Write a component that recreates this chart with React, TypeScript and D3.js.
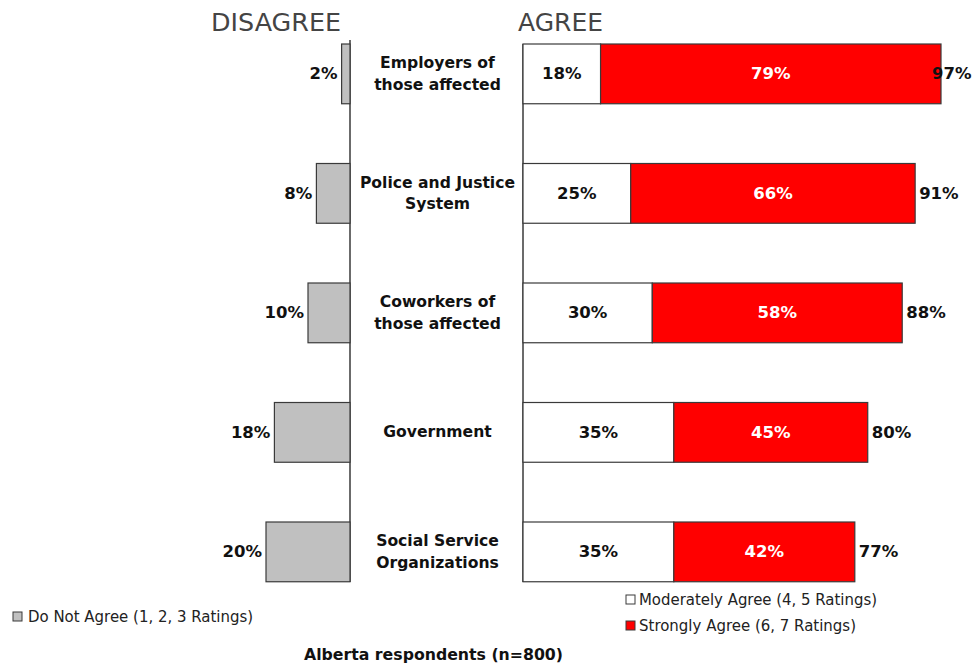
import React from "react";
import * as d3 from "d3";

const categories = [
  ["Employers of", "those affected"],
  ["Police and Justice", "System"],
  ["Coworkers of", "those affected"],
  ["Government"],
  ["Social Service", "Organizations"],
];
const disagree = [2, 8, 10, 18, 20];
const moderate = [18, 25, 30, 35, 35];
const strong = [79, 66, 58, 45, 42];
const totals = [97, 91, 88, 80, 77];
const legendLabels = ["Do Not Agree (1, 2, 3 Ratings)", "Moderately Agree (4, 5 Ratings)", "Strongly Agree (6, 7 Ratings)"];

const W = 975;
const H = 664;
const FONT = "DejaVu Sans, Verdana, sans-serif";
const STROKE = "#3a3a3a";

export default function App() {
  const keys = categories.map((_, i) => String(i));
  const y = d3.scaleBand().domain(keys).range([44, 581.75]).paddingInner(0.5).paddingOuter(0);
  const xL = d3.scaleLinear().domain([0, 20]).range([350, 266]);
  const xR = d3.scaleLinear().domain([0, 97]).range([523, 941]);
  const bh = y.bandwidth();
  const PF = 16.5;

  return (
    <svg width={W} height={H} style={{ position: "absolute", left: 0, top: 0, background: "#fff" }} fontFamily={FONT}>
      <text x={211} y={31} fontSize={25} fill="#444" textLength={130} lengthAdjust="spacingAndGlyphs">DISAGREE</text>
      <text x={518} y={31} fontSize={25} fill="#444" textLength={85} lengthAdjust="spacingAndGlyphs">AGREE</text>

      <line x1={350} x2={350} y1={40} y2={582} stroke={STROKE} strokeWidth={1.5} />
      <line x1={523} x2={523} y1={44} y2={582} stroke={STROKE} strokeWidth={1.5} />

      {keys.map((k, i) => {
        const y0 = y(k)!;
        const cy = y0 + bh / 2;
        const lines = categories[i];
        const xm = xR(moderate[i]);
        const xt = xR(moderate[i] + strong[i]);
        return (
          <g key={k}>
            <rect x={xL(disagree[i])} y={y0} width={xL(0) - xL(disagree[i])} height={bh} fill="#c0c0c0" stroke={STROKE} strokeWidth={1.2} />
            <text x={xL(disagree[i]) - 4} y={cy} textAnchor="end" dominantBaseline="central" fontSize={PF} fontWeight="bold" fill="#111">{disagree[i]}%</text>

            {lines.map((t, j) => (
              <text key={j} x={437.5} y={cy + (j - (lines.length - 1) / 2) * 21.5} textAnchor="middle" dominantBaseline="central" fontSize={15.6} fontWeight="bold" fill="#111">{t}</text>
            ))}

            <rect x={xR(0)} y={y0} width={xm - xR(0)} height={bh} fill="#fff" stroke={STROKE} strokeWidth={1.2} />
            <rect x={xm} y={y0} width={xt - xm} height={bh} fill="#ff0000" stroke={STROKE} strokeWidth={1.2} />
            <text x={(xR(0) + xm) / 2} y={cy} textAnchor="middle" dominantBaseline="central" fontSize={PF} fontWeight="bold" fill="#111">{moderate[i]}%</text>
            <text x={(xm + xt) / 2} y={cy} textAnchor="middle" dominantBaseline="central" fontSize={PF} fontWeight="bold" fill="#fff">{strong[i]}%</text>
            <text x={Math.min(xt + 4, W - 43)} y={cy} dominantBaseline="central" fontSize={PF} fontWeight="bold" fill="#111">{totals[i]}%</text>
          </g>
        );
      })}

      <rect x={13} y={612} width={9} height={9} fill="#c0c0c0" stroke={STROKE} strokeWidth={1} />
      <text x={28} y={617} dominantBaseline="central" fontSize={15.5} fill="#222" textLength={225} lengthAdjust="spacingAndGlyphs">{legendLabels[0]}</text>
      <rect x={626} y={595} width={9} height={9} fill="#fff" stroke={STROKE} strokeWidth={1} />
      <text x={639} y={599.5} dominantBaseline="central" fontSize={15.5} fill="#222" textLength={238} lengthAdjust="spacingAndGlyphs">{legendLabels[1]}</text>
      <rect x={626} y={621} width={9} height={9} fill="#ff0000" stroke={STROKE} strokeWidth={1} />
      <text x={639} y={625.5} dominantBaseline="central" fontSize={15.5} fill="#222" textLength={217} lengthAdjust="spacingAndGlyphs">{legendLabels[2]}</text>

      <text x={433.5} y={654.5} textAnchor="middle" dominantBaseline="central" fontSize={16} fontWeight="bold" fill="#111" textLength={259} lengthAdjust="spacingAndGlyphs">Alberta respondents (n=800)</text>
    </svg>
  );
}
